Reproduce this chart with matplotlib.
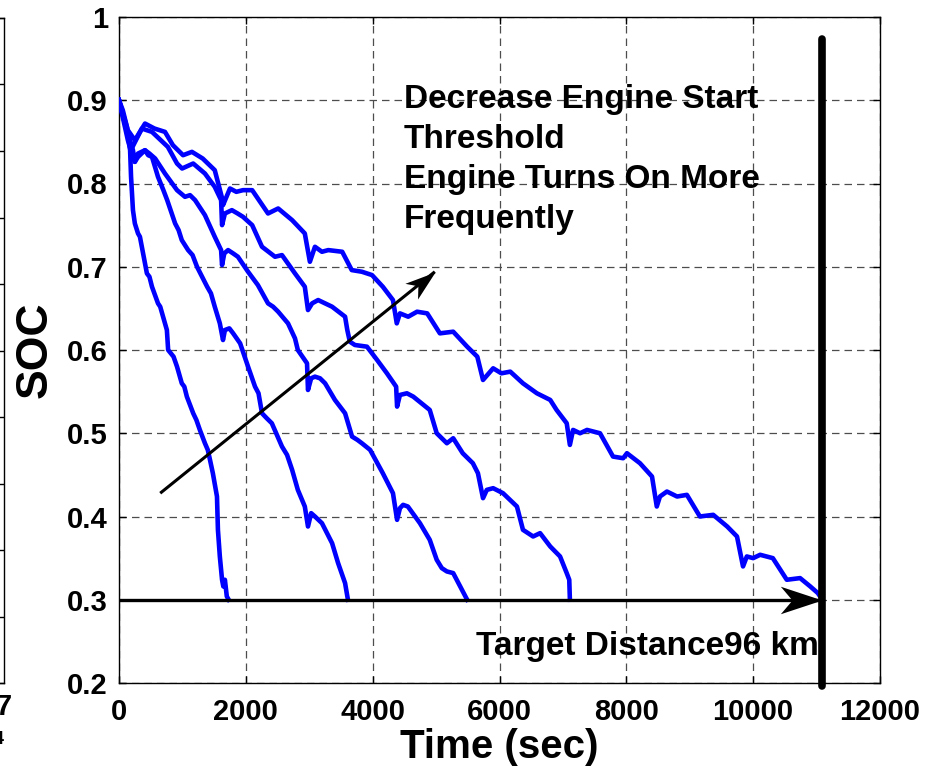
import matplotlib
matplotlib.use("Agg")
import numpy as np
import matplotlib.pyplot as plt
from matplotlib.path import Path
from matplotlib.markers import MarkerStyle

# ─────────────────────────────────────────────
# DATA
# five SOC traces, one per engine start threshold
# ─────────────────────────────────────────────
t_a = [0, 60, 125, 175, 190, 220, 250, 300, 330, 360, 440, 480, 520, 615, 650,
       695, 755, 775, 860, 915, 990, 1030, 1070, 1170, 1220, 1275, 1355, 1400,
       1435, 1480, 1545, 1560, 1590, 1625, 1645, 1670, 1700, 1730]
soc_a = [0.900, 0.888, 0.868, 0.840, 0.808, 0.768, 0.752, 0.740, 0.736, 0.724,
         0.692, 0.688, 0.676, 0.656, 0.652, 0.640, 0.624, 0.600, 0.592, 0.580,
         0.560, 0.556, 0.544, 0.524, 0.516, 0.504, 0.488, 0.480, 0.468, 0.452,
         0.424, 0.384, 0.352, 0.324, 0.316, 0.324, 0.304, 0.300]

t_b = [0, 140, 200, 250, 300, 410, 460, 520, 615, 700, 760, 885, 940, 990,
       1090, 1160, 1230, 1390, 1450, 1510, 1590, 1640, 1670, 1740, 1800, 1910,
       2035, 2145, 2200, 2255, 2330, 2410, 2570, 2650, 2730, 2820, 2930, 2980,
       3030, 3090, 3200, 3280, 3360, 3455, 3565, 3610]
soc_b = [0.900, 0.852, 0.836, 0.826, 0.832, 0.840, 0.834, 0.832, 0.808, 0.792,
         0.780, 0.752, 0.744, 0.732, 0.720, 0.714, 0.700, 0.676, 0.668, 0.652,
         0.632, 0.612, 0.624, 0.626, 0.620, 0.608, 0.580, 0.556, 0.548, 0.524,
         0.518, 0.512, 0.484, 0.474, 0.456, 0.432, 0.412, 0.388, 0.404, 0.400,
         0.392, 0.380, 0.368, 0.344, 0.320, 0.300]

t_c = [0, 120, 220, 250, 300, 410, 480, 570, 725, 915, 1040, 1120, 1200, 1355,
       1510, 1610, 1625, 1660, 1720, 1800, 1875, 2035, 2190, 2350, 2430, 2510,
       2665, 2775, 2820, 2965, 2980, 3030, 3090, 3170, 3250, 3405, 3565, 3675,
       3760, 3830, 3960, 4160, 4320, 4385, 4430, 4480, 4555, 4745, 4900, 5010,
       5090, 5170, 5270, 5380, 5490]
soc_c = [0.900, 0.864, 0.840, 0.826, 0.836, 0.840, 0.836, 0.830, 0.812, 0.792,
         0.784, 0.786, 0.780, 0.762, 0.736, 0.720, 0.702, 0.716, 0.720, 0.716,
         0.712, 0.694, 0.678, 0.656, 0.652, 0.646, 0.632, 0.614, 0.600, 0.584,
         0.552, 0.566, 0.568, 0.566, 0.560, 0.540, 0.524, 0.496, 0.492, 0.488,
         0.480, 0.452, 0.428, 0.396, 0.410, 0.414, 0.412, 0.392, 0.372, 0.348,
         0.338, 0.334, 0.332, 0.316, 0.300]

t_d = [0, 200, 360, 520, 770, 915, 995, 1170, 1355, 1510, 1610, 1625, 1670,
       1780, 1870, 1955, 2100, 2255, 2460, 2570, 2775, 2930, 2980, 3045, 3140,
       3250, 3360, 3565, 3600, 3640, 3720, 3910, 4070, 4225, 4370, 4385, 4430,
       4540, 4640, 4900, 5010, 5170, 5270, 5420, 5580, 5660, 5740, 5800, 5900,
       6055, 6275, 6370, 6530, 6640, 6800, 6955, 7060, 7100, 7110]
soc_d = [0.900, 0.842, 0.866, 0.862, 0.844, 0.824, 0.818, 0.824, 0.812, 0.796,
         0.780, 0.750, 0.764, 0.768, 0.764, 0.760, 0.750, 0.724, 0.712, 0.714,
         0.692, 0.676, 0.648, 0.656, 0.660, 0.656, 0.652, 0.640, 0.624, 0.610,
         0.606, 0.604, 0.588, 0.572, 0.556, 0.532, 0.546, 0.548, 0.544, 0.528,
         0.500, 0.488, 0.494, 0.476, 0.464, 0.452, 0.422, 0.432, 0.434, 0.428,
         0.412, 0.384, 0.376, 0.380, 0.364, 0.352, 0.332, 0.324, 0.300]

t_e = [0, 140, 250, 410, 560, 725, 850, 1010, 1150, 1320, 1510, 1620, 1640,
       1750, 1850, 1955, 2100, 2350, 2510, 2730, 2930, 3010, 3090, 3200, 3300,
       3520, 3670, 3830, 3990, 4160, 4320, 4380, 4430, 4560, 4700, 4860, 5060,
       5270, 5490, 5650, 5740, 5900, 6030, 6170, 6370, 6590, 6800, 6900, 7060,
       7110, 7160, 7270, 7380, 7585, 7790, 7950, 8010, 8215, 8405, 8480, 8530,
       8640, 8800, 8955, 9160, 9370, 9590, 9745, 9840, 9900, 10000, 10110, 10310,
       10530, 10740, 10900, 11020, 11090]
soc_e = [0.900, 0.864, 0.852, 0.872, 0.866, 0.862, 0.846, 0.834, 0.838, 0.830,
         0.816, 0.784, 0.774, 0.794, 0.790, 0.792, 0.792, 0.764, 0.770, 0.756,
         0.740, 0.706, 0.724, 0.718, 0.720, 0.718, 0.696, 0.694, 0.690, 0.676,
         0.660, 0.632, 0.644, 0.640, 0.646, 0.644, 0.620, 0.622, 0.604, 0.592,
         0.564, 0.578, 0.572, 0.574, 0.560, 0.548, 0.540, 0.528, 0.512, 0.486,
         0.504, 0.500, 0.504, 0.500, 0.472, 0.470, 0.476, 0.464, 0.448, 0.412,
         0.424, 0.430, 0.424, 0.426, 0.400, 0.402, 0.388, 0.376, 0.340, 0.352,
         0.350, 0.354, 0.350, 0.324, 0.326, 0.316, 0.308, 0.300]

target_time = 11090      # time at which 96 km is reached
target_soc = 0.3         # SOC floor
trend_start = (650, 0.428)
trend_end = (4980, 0.694)

x_ticks = [0, 2000, 4000, 6000, 8000, 10000, 12000]
y_ticks = [0.2, 0.3, 0.4, 0.5, 0.6, 0.7, 0.8, 0.9, 1.0]
y_tick_labels = ["0.2", "0.3", "0.4", "0.5", "0.6", "0.7", "0.8", "0.9", "1"]

plt.rcParams["font.family"] = ["Liberation Sans", "DejaVu Sans"]
plt.rcParams["font.weight"] = "bold"

# concave (MATLAB style) arrow head, tip at the origin pointing right
head_path = Path([(0, 0), (-1, 0.33), (-0.72, 0), (-1, -0.33), (0, 0)],
                 [Path.MOVETO, Path.LINETO, Path.LINETO, Path.LINETO, Path.CLOSEPOLY])

fig = plt.figure(figsize=(9.26, 7.69), dpi=100)

# leftover edge of the neighbouring subplot (cut off at the left)
ax_l = fig.add_axes([-0.5, 0.1118, 0.5043, 0.8648])
ax_l.set_xlim(0, 1)
ax_l.set_ylim(0, 1)
ax_l.set_yticks([i / 10 for i in range(11)])
ax_l.set_xticks([])
ax_l.tick_params(axis="y", direction="in", right=True, left=False,
                 labelleft=False, length=5, width=1)
for s in ax_l.spines.values():
    s.set_linewidth(1)
fig.text(12 / 926, 1 - 707 / 769, "7", ha="right", va="center",
         fontsize=21, fontweight="bold")
fig.text(4 / 926, 1 - 740 / 769, "4", ha="right", va="center",
         fontsize=13, fontweight="bold")

# main axes
ax = fig.add_axes([119 / 926, 1 - 683 / 769, 761 / 926, 666 / 769])
ax.set_xlim(0, 12000)
ax.set_ylim(0.2, 1.0)

for t, s in [(t_a, soc_a), (t_b, soc_b), (t_c, soc_c), (t_d, soc_d), (t_e, soc_e)]:
    ax.plot(t, s, color="#0000ff", linewidth=3.3, solid_joinstyle="round", zorder=3)


def draw_arrow(start, end, lw, head_size):
    ax.plot([start[0], end[0]], [start[1], end[1]], color="k", linewidth=lw,
            solid_capstyle="butt", zorder=4)
    p0 = ax.transData.transform(start)
    p1 = ax.transData.transform(end)
    ang = np.degrees(np.arctan2(p1[1] - p0[1], p1[0] - p0[0]))
    ax.plot([end[0]], [end[1]], linestyle="none",
            marker=MarkerStyle(head_path).rotated(deg=ang),
            markersize=head_size, color="k", markeredgewidth=0, zorder=4)


draw_arrow((0, target_soc), (target_time, target_soc), 2.4, 60)
draw_arrow(trend_start, trend_end, 2.2, 44)

# target distance line
ax.plot([target_time, target_time], [0.196, 0.974], color="k", linewidth=5.5,
        solid_capstyle="round", clip_on=False, zorder=5)

ax.text(4490, 0.919, "Decrease Engine Start\nThreshold\nEngine Turns On More\nFrequently",
        fontsize=24, fontweight="bold", ha="left", va="top", linespacing=1.37,
        zorder=6)
ax.text(5630, 0.234, "Target Distance96 km", fontsize=24, fontweight="bold",
        ha="left", va="baseline", zorder=6)

ax.set_xticks(x_ticks)
ax.set_xticklabels([str(v) for v in x_ticks])
ax.set_yticks(y_ticks)
ax.set_yticklabels(y_tick_labels)
ax.tick_params(direction="in", top=True, right=True, length=5, width=1,
               labelsize=21)
ax.tick_params(axis="x", pad=11)
ax.tick_params(axis="y", pad=8)
ax.grid(True, color="0.3", linestyle=(0, (6, 4)), linewidth=0.9)
for s in ax.spines.values():
    s.set_linewidth(1)

ax.set_xlabel("Time (sec)", fontsize=29, fontweight="bold", labelpad=1)
ax.set_ylabel("SOC", fontsize=32, fontweight="bold", labelpad=8)

fig.savefig("out.png", dpi=100)
